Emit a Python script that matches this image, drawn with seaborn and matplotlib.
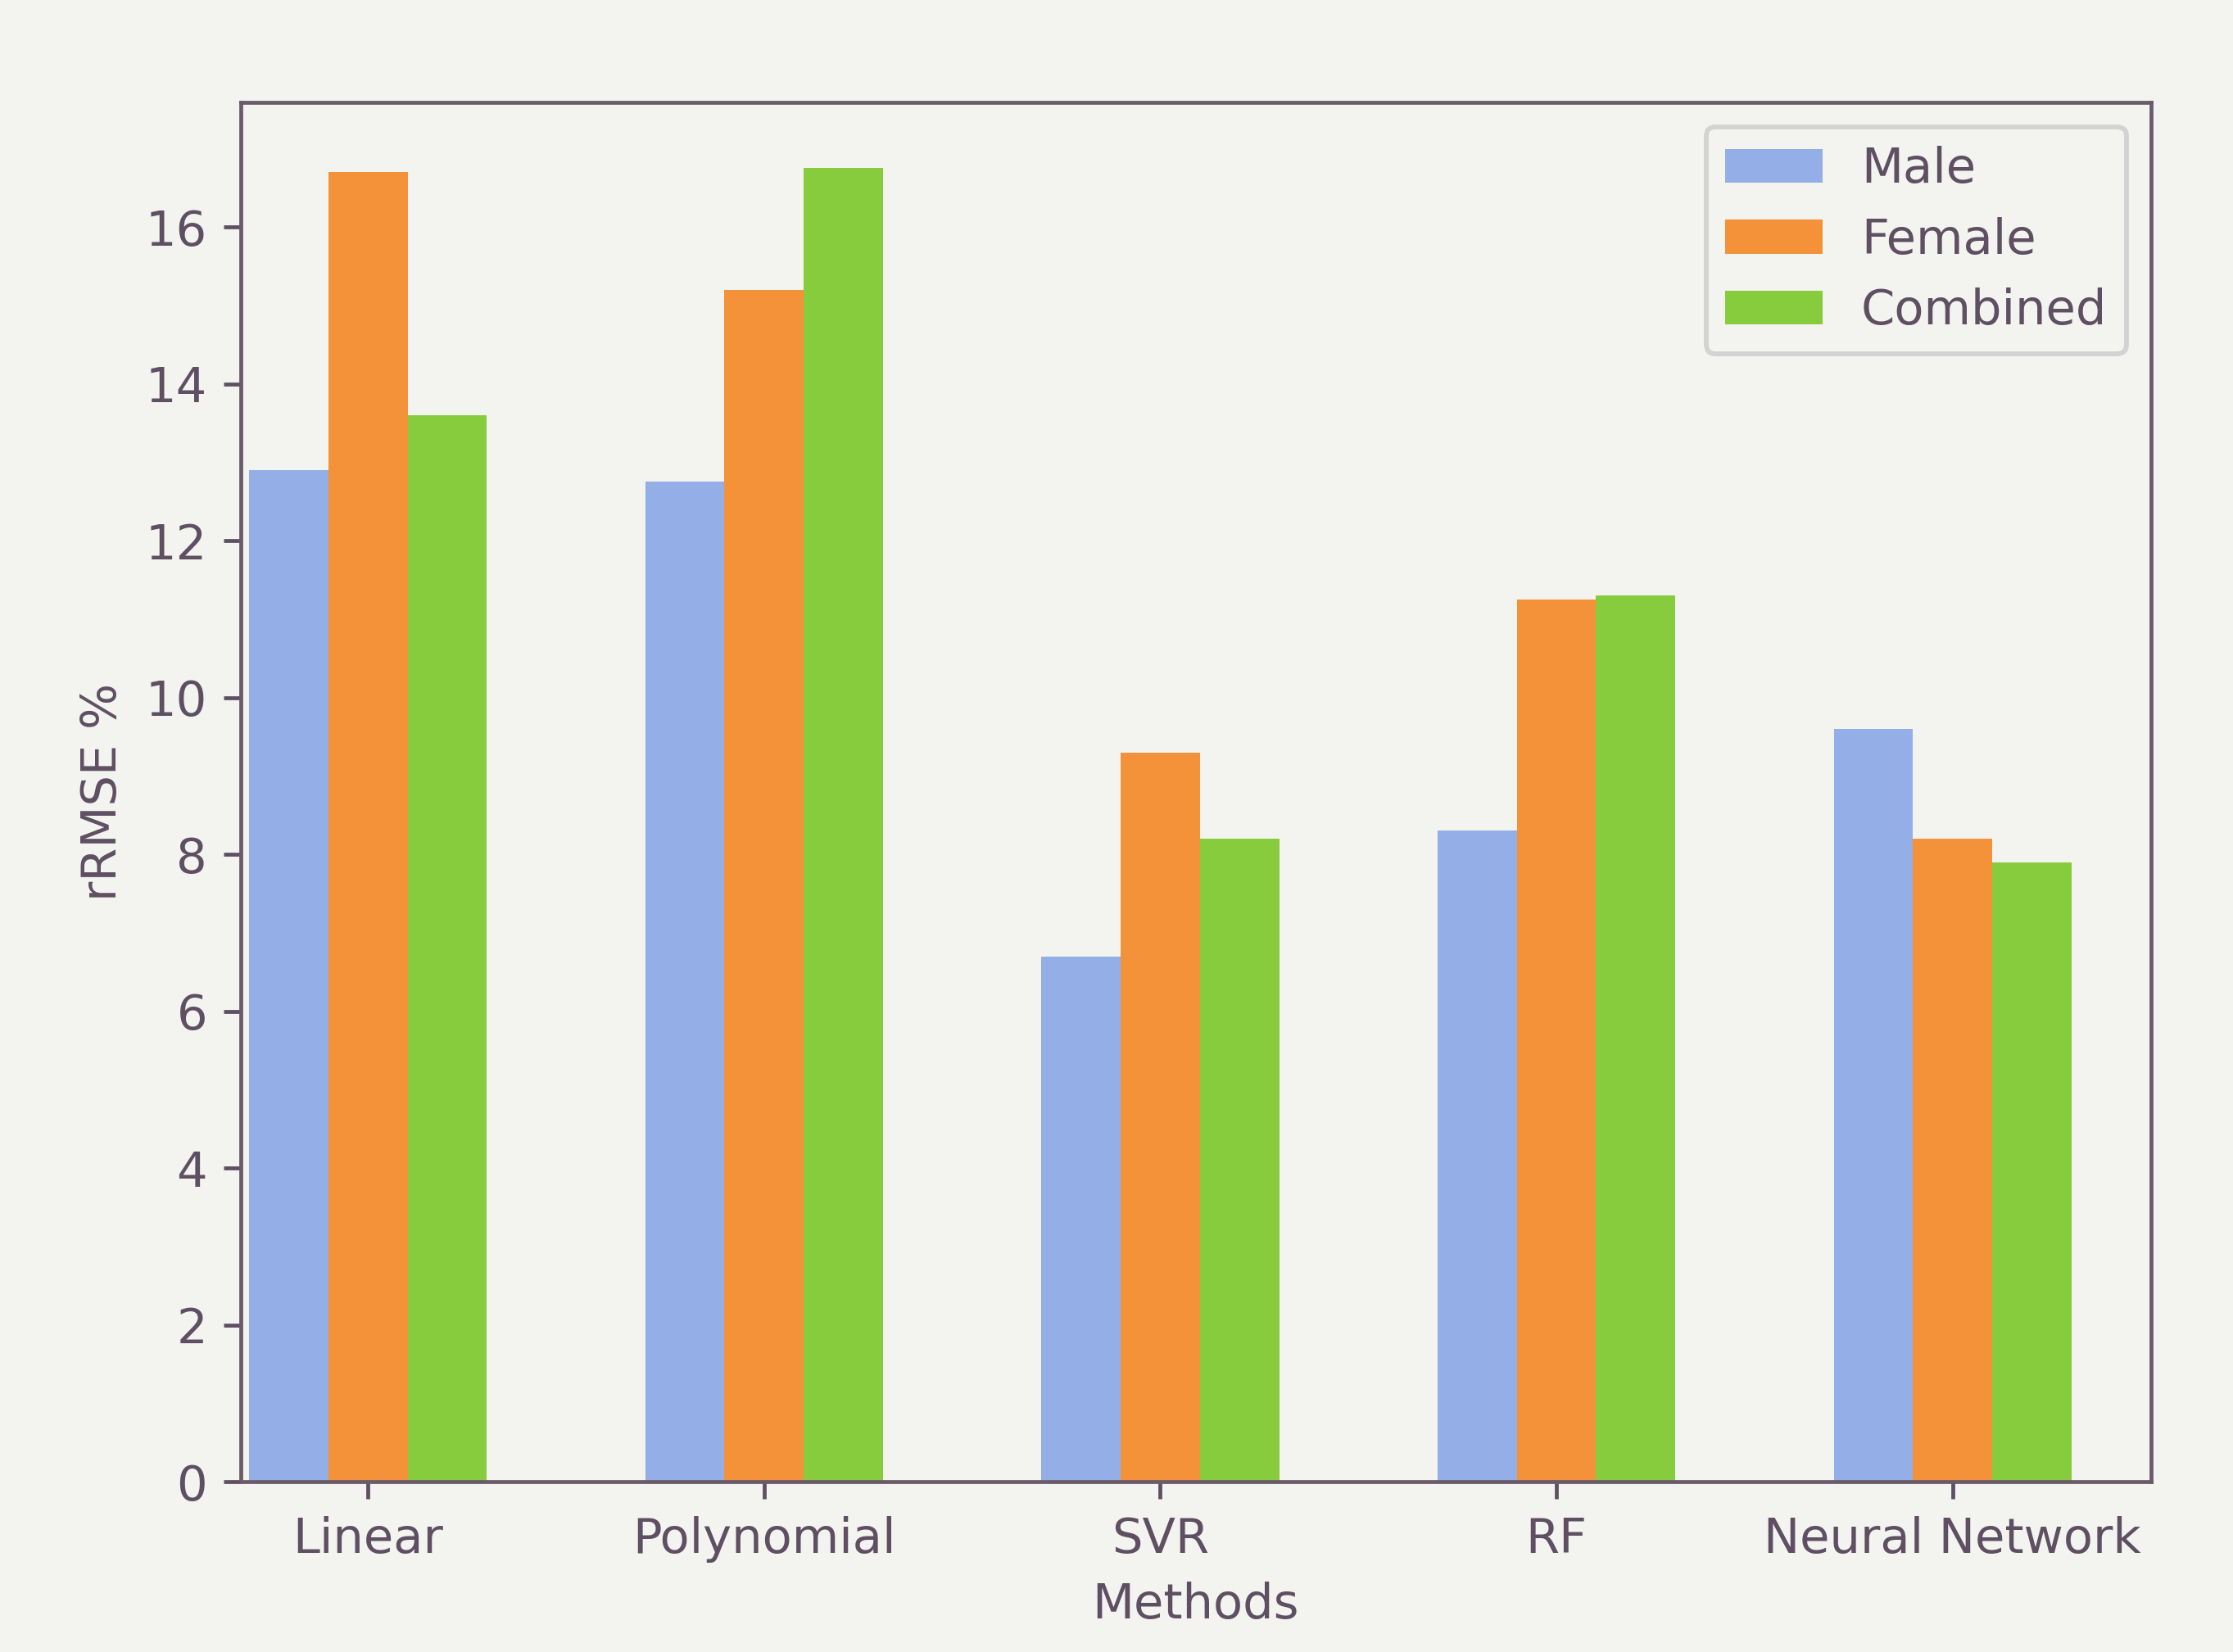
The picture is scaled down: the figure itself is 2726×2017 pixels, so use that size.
import pandas as pd
import matplotlib
matplotlib.use("Agg")
import matplotlib.pyplot as plt
import seaborn as sns

methods = ['Linear', 'Polynomial', 'SVR', 'RF', 'Neural Network']
groups = ['Male', 'Female', 'Combined']
male = [12.9, 12.75, 6.7, 8.3, 9.6]
female = [16.7, 15.2, 9.3, 11.25, 8.2]
combined = [13.6, 16.75, 8.2, 11.3, 7.9]
colors = ['#94aee8', '#f4923a', '#86cc3c']

# long format for seaborn
df = pd.DataFrame({
    'Method': methods * 3,
    'Group': ['Male'] * 5 + ['Female'] * 5 + ['Combined'] * 5,
    'rRMSE': male + female + combined,
})

txt = '#5e5062'
bg = '#f3f3ef'
plt.rcParams.update({
    'text.color': txt, 'axes.labelcolor': txt,
    'xtick.color': txt, 'ytick.color': txt,
    'axes.edgecolor': '#6a5a6a',
})

fig = plt.figure(figsize=(6.4, 4.735), facecolor=bg)
ax = fig.add_axes([0.108, 0.103, 0.855, 0.835])
ax.set_facecolor(bg)

sns.barplot(data=df, x='Method', y='rRMSE', hue='Group', hue_order=groups,
            order=methods, palette=colors, width=0.6, saturation=1,
            gap=0, ax=ax)

ax.set_xlim(-0.32, 4.5)
ax.set_xlabel('Methods')
ax.set_ylabel('rRMSE %')

handles, labels = ax.get_legend_handles_labels()
ax.legend(handles, labels, loc='upper right', facecolor=bg)

fig.savefig('out.png', dpi=426, facecolor=bg)
